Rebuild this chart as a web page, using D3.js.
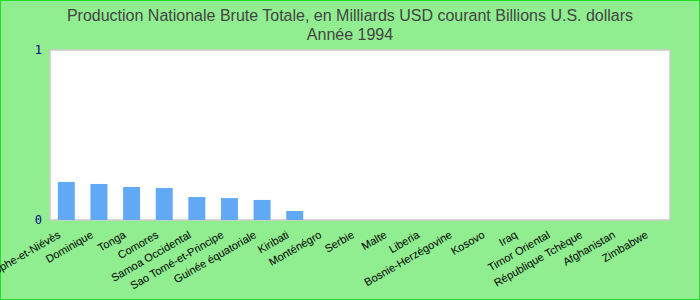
<!DOCTYPE html>
<html>
<head>
<meta charset="utf-8">
<script src="https://cdn.jsdelivr.net/npm/d3@7"></script>
<style>
  body { margin: 0; }
  svg { display: block; }
</style>
</head>
<body>
<svg width="700" height="300"></svg>
<script>
// the data
var countries = ["Saint-Christophe-et-Niévès", "Dominique", "Tonga", "Comores", "Samoa Occidental",
  "Sao Tomé-et-Principe", "Guinée équatoriale", "Kiribati", "Monténégro", "Serbie", "Malte",
  "Liberia", "Bosnie-Herzégovine", "Kosovo", "Iraq", "Timor Oriental", "République Tchèque",
  "Afghanistan", "Zimbabwe"];
var gnp = [0.224, 0.212, 0.194, 0.188, 0.135, 0.129, 0.118, 0.053, 0, 0, 0, 0, 0, 0, 0, 0, 0, 0, 0];
var yTicks = [0, 1];
var titleLines = ["Production Nationale Brute Totale, en Milliards USD courant Billions U.S. dollars", "Année 1994"];

var svg = d3.select("svg"),
  width = +svg.attr("width"),
  height = +svg.attr("height");

var margin = {top: 50, right: 30, bottom: 80, left: 50};

// background
svg.append("rect")
  .attr("x", 0.5).attr("y", 0.5)
  .attr("width", width - 1).attr("height", height - 1)
  .attr("fill", "#90ee90")
  .attr("stroke", "#22dd22");

var x = d3.scaleBand()
  .domain(countries)
  .range([margin.left, width - margin.right])
  .paddingInner(0.48)
  .paddingOuter(0.24);

var y = d3.scaleLinear()
  .domain([0, 1])
  .range([height - margin.bottom, margin.top]);

// plot area
svg.append("rect")
  .attr("x", margin.left).attr("y", margin.top)
  .attr("width", width - margin.left - margin.right)
  .attr("height", height - margin.top - margin.bottom)
  .attr("fill", "#fff")
  .attr("stroke", "#cccccc")
  .attr("stroke-width", 1.5);

svg.append("g")
  .selectAll("rect")
  .data(gnp)
  .enter().append("rect")
    .attr("x", function(d, i) { return x(countries[i]); })
    .attr("y", function(d) { return y(d); })
    .attr("width", x.bandwidth())
    .attr("height", function(d) { return y(0) - y(d); })
    .attr("fill", "#62a9f5");

// y axis
svg.append("g")
  .attr("transform", "translate(" + margin.left + ",0)")
  .call(d3.axisLeft(y).tickValues(yTicks).tickSize(0).tickPadding(8).tickFormat(d3.format("d")))
  .call(function(g) { g.select(".domain").remove(); })
  .selectAll("text")
    .attr("fill", "#00008b")
    .attr("font-family", "DejaVu Sans Mono")
    .attr("font-size", 12);

// x axis
svg.append("g")
  .attr("transform", "translate(0," + (height - margin.bottom) + ")")
  .call(d3.axisBottom(x).tickSize(0).tickPadding(0))
  .call(function(g) { g.select(".domain").remove(); })
  .selectAll("text")
    .attr("font-family", "Liberation Sans, Arial, sans-serif")
    .attr("font-size", 11)
    .attr("fill", "#000")
    .attr("text-anchor", "end")
    .attr("dy", 0)
    .attr("transform", "translate(-5,17) rotate(-30)");

// title
svg.append("g")
  .selectAll("text")
  .data(titleLines)
  .enter().append("text")
    .attr("x", width / 2)
    .attr("y", function(d, i) { return 21 + i * 19; })
    .attr("text-anchor", "middle")
    .attr("font-family", "Liberation Sans, Arial, sans-serif")
    .attr("font-size", 16)
    .attr("fill", "#444")
    .text(function(d) { return d; });
</script>
</body>
</html>
